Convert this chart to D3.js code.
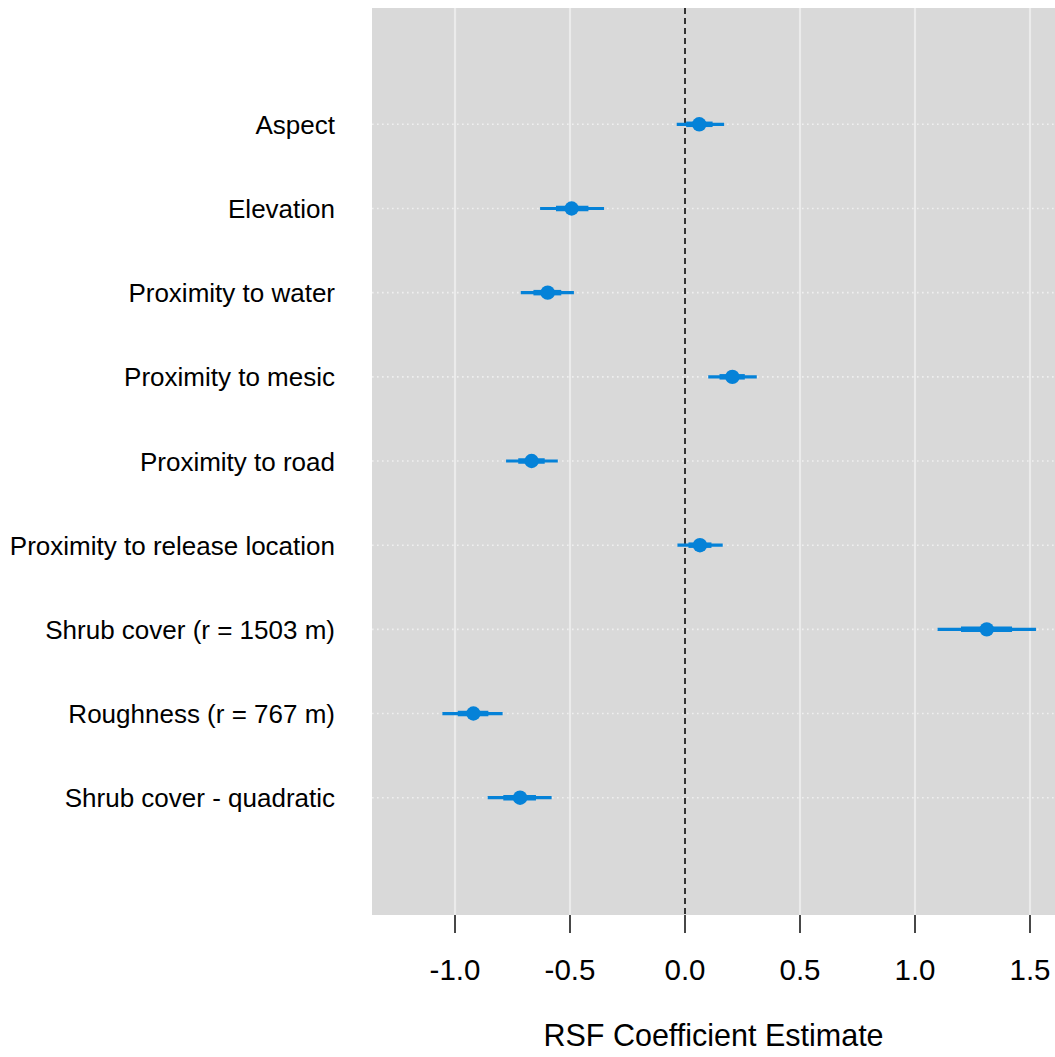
<!DOCTYPE html>
<html><head><meta charset="utf-8">
<script src="https://cdn.jsdelivr.net/npm/d3@7"></script>
<style>body{margin:0;background:#fff}svg{display:block}text{font-family:"Liberation Sans",Arial,sans-serif}</style>
</head><body>
<svg id="c" width="1055" height="1057"></svg>
<script>
const labels = ["Aspect","Elevation","Proximity to water","Proximity to mesic","Proximity to road","Proximity to release location","Shrub cover (r = 1503 m)","Roughness (r = 767 m)","Shrub cover - quadratic"];
const estimate = [0.062,-0.493,-0.597,0.206,-0.667,0.065,1.312,-0.920,-0.717];
const lower95 = [-0.036,-0.630,-0.714,0.101,-0.778,-0.033,1.098,-1.055,-0.858];
const upper95 = [0.170,-0.352,-0.483,0.312,-0.553,0.164,1.526,-0.793,-0.580];
const lower50 = [0.005,-0.561,-0.659,0.150,-0.725,0.015,1.200,-0.988,-0.790];
const upper50 = [0.120,-0.420,-0.538,0.260,-0.610,0.115,1.422,-0.855,-0.648];
const xTicks = [-1.0,-0.5,0.0,0.5,1.0,1.5];
const xTickLabels = ["-1.0","-0.5","0.0","0.5","1.0","1.5"];
const xTitle = "RSF Coefficient Estimate";

const svg = d3.select("#c");
const L=372,R=1055,T=8,B=915;
const x = d3.scaleLinear().domain([-1.3609,1.6087]).range([L,R]);
const n = labels.length;
const y = d3.scaleLinear().domain([n,1]).range([124.3,797.7]);
const rowVal = (i)=> n - i;
const col = "#0582d8";

svg.append("rect").attr("x",L).attr("y",T).attr("width",R-L).attr("height",B-T).attr("fill","#d9d9d9");
svg.selectAll(".vg").data(xTicks.filter(d=>d!==0)).enter().append("line")
  .attr("x1",d=>x(d)).attr("x2",d=>x(d)).attr("y1",T).attr("y2",B)
  .attr("stroke","#ebebeb").attr("stroke-width",2.2);
svg.selectAll(".hg").data(labels).enter().append("line")
  .attr("x1",L).attr("x2",R).attr("y1",(d,i)=>y(rowVal(i))).attr("y2",(d,i)=>y(rowVal(i)))
  .attr("stroke","#f0f0f0").attr("stroke-width",1.6).attr("stroke-dasharray","1.6,3.4");
svg.append("line").attr("x1",x(0)).attr("x2",x(0)).attr("y1",T).attr("y2",B)
  .attr("stroke","#2a2a2a").attr("stroke-width",1.9).attr("stroke-dasharray","6,4");

const g = svg.append("g");
labels.forEach((lab,i)=>{
  const yy = y(rowVal(i));
  g.append("line").attr("x1",x(lower95[i])).attr("x2",x(upper95[i])).attr("y1",yy).attr("y2",yy)
    .attr("stroke",col).attr("stroke-width",3.2);
  g.append("line").attr("x1",x(lower50[i])).attr("x2",x(upper50[i])).attr("y1",yy).attr("y2",yy)
    .attr("stroke",col).attr("stroke-width",5.5);
  g.append("circle").attr("cx",x(estimate[i])).attr("cy",yy).attr("r",7.2).attr("fill",col);
  svg.append("text").attr("x",335).attr("y",yy).attr("dy","0.37em").attr("text-anchor","end")
    .attr("font-size",26).attr("fill","#000").text(lab);
});

const ax = svg.append("g");
xTicks.forEach((t,i)=>{
  ax.append("line").attr("x1",x(t)).attr("x2",x(t)).attr("y1",B).attr("y2",B+18).attr("stroke","#333").attr("stroke-width",1.8);
  ax.append("text").attr("x",x(t)).attr("y",980).attr("text-anchor","middle").attr("font-size",29.5).attr("fill","#000").text(xTickLabels[i]);
});
svg.append("text").attr("x",(L+R)/2).attr("y",1046).attr("text-anchor","middle").attr("font-size",30.5).attr("fill","#000").text(xTitle);
</script>
</body></html>
